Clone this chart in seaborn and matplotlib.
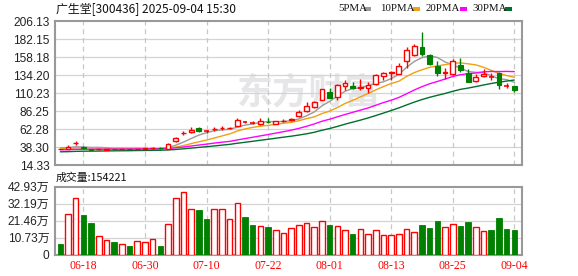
import numpy as np
import pandas as pd
import matplotlib
matplotlib.use("Agg")
import matplotlib.pyplot as plt
from matplotlib.patches import Rectangle
import seaborn as sns

# ---------------- data ----------------
title = "广生堂[300436] 2025-09-04 15:30"
dates = pd.bdate_range("2025-06-13", "2025-09-04").strftime("%m-%d").tolist()
tick_labels = ["06-18", "06-30", "07-10", "07-22", "08-01", "08-13", "08-25", "09-04"]

open_ = [35.8, 36.2, 43.2, 38.6, 36.0, 35.0, 34.3, 35.8, 35.3, 35.7,
         35.3, 35.7, 36.5, 37.5, 36.3, 46.0, 56.5, 58.3, 63.3, 59.0,
         62.0, 63.0, 63.5, 66.6, 71.9, 70.8, 68.8, 72.2, 69.2, 73.0,
         74.2, 79.0, 85.8, 91.2, 101.5, 111.0, 105.5, 120.0, 120.0, 117.0,
         117.0, 122.0, 132.5, 137.0, 136.0, 153.3, 161.0, 171.0, 161.0, 146.5,
         137.0, 136.0, 148.0, 137.5, 126.0, 133.0, 132.2, 136.5, 120.2, 119.0]
high = [36.0, 41.6, 46.6, 40.3, 36.2, 36.3, 36.2, 36.2, 36.0, 35.9,
        36.3, 36.8, 38.5, 38.0, 43.2, 51.5, 59.4, 64.5, 64.5, 61.0,
        65.6, 66.0, 65.5, 77.5, 73.0, 72.5, 76.5, 77.0, 73.5, 75.0,
        77.5, 88.0, 98.5, 100.0, 116.0, 116.5, 122.0, 127.0, 125.5, 129.0,
        125.0, 135.0, 138.5, 139.0, 150.5, 172.0, 176.0, 191.5, 162.5, 153.5,
        143.8, 156.0, 157.0, 142.5, 135.0, 142.5, 137.0, 138.5, 123.5, 119.0]
low = [35.0, 36.0, 40.5, 36.2, 34.3, 34.7, 34.0, 35.0, 35.0, 35.0,
       35.1, 35.5, 36.0, 36.2, 35.8, 45.0, 54.1, 57.5, 58.5, 57.5,
       59.5, 61.5, 62.5, 65.8, 70.5, 69.5, 67.5, 70.5, 68.5, 72.0,
       73.0, 78.0, 84.5, 90.0, 100.5, 103.0, 100.5, 114.0, 116.0, 114.0,
       110.0, 121.0, 128.0, 128.0, 135.0, 143.0, 159.0, 159.0, 148.0, 132.5,
       129.0, 134.0, 138.0, 124.5, 124.5, 131.5, 127.0, 116.0, 116.5, 111.3]
close = [35.2, 38.6, 43.6, 36.5, 34.7, 35.8, 35.8, 35.3, 35.7, 35.3,
         35.9, 36.4, 37.0, 36.6, 42.5, 50.5, 57.2, 61.0, 59.3, 59.0,
         62.8, 63.6, 64.2, 74.5, 71.9, 70.8, 73.0, 71.5, 72.8, 73.6,
         75.0, 85.5, 92.5, 97.8, 115.0, 104.0, 121.5, 124.0, 116.5, 117.8,
         121.0, 134.0, 136.5, 137.6, 146.0, 168.0, 173.0, 162.0, 148.5, 136.5,
         137.8, 153.0, 141.0, 125.5, 131.8, 135.5, 132.2, 121.0, 120.2, 113.6]
volume_wan = [6.9, 25.9, 36.0, 25.2, 19.8, 12.0, 9.5, 8.2, 7.0, 5.7,
              8.8, 8.2, 10.1, 5.7, 19.6, 36.0, 39.8, 28.6, 28.0, 22.3,
              29.0, 29.0, 22.3, 32.8, 23.6, 18.5, 18.3, 17.3, 15.8, 13.9,
              16.6, 18.5, 20.2, 17.3, 21.5, 18.9, 18.3, 15.8, 12.8, 16.4,
              13.3, 15.8, 12.6, 12.6, 13.3, 16.4, 14.5, 18.9, 16.6, 21.0,
              17.3, 19.6, 17.9, 20.4, 17.3, 15.1, 15.4, 22.9, 16.0, 15.42]
ma5 = [37.2, 37.4, 38.6, 38.3, 37.7, 37.8, 37.3, 35.6, 35.5, 35.6,
       35.6, 35.7, 36.1, 36.2, 37.7, 40.6, 44.8, 49.6, 54.1, 57.4,
       59.9, 61.1, 61.8, 64.8, 67.4, 69.0, 70.9, 72.3, 72.0, 72.3,
       73.2, 75.7, 79.9, 84.9, 93.2, 99.0, 106.2, 112.5, 116.2, 116.8,
       120.2, 122.7, 125.2, 129.4, 135.0, 144.4, 152.2, 157.3, 159.5, 157.6,
       151.6, 147.6, 143.4, 138.8, 137.8, 137.4, 133.2, 129.2, 128.1, 124.5]
ma10 = [36.3, 36.5, 37.2, 37.2, 37.1, 37.0, 36.9, 36.8, 36.8, 36.7,
        36.7, 36.5, 35.8, 35.9, 36.6, 38.1, 40.2, 42.8, 45.2, 47.5,
        50.2, 53.0, 55.7, 59.5, 62.4, 64.4, 66.0, 67.1, 68.4, 69.9,
        71.1, 73.3, 76.1, 78.4, 82.8, 86.1, 90.9, 96.2, 100.5, 105.0,
        109.6, 114.4, 118.8, 122.8, 125.9, 132.3, 137.4, 141.2, 144.4, 146.3,
        148.0, 149.9, 150.3, 149.1, 147.7, 144.5, 140.4, 136.3, 133.5, 131.2]
ma20 = [34.5, 34.7, 35.2, 35.3, 35.3, 35.4, 35.4, 35.5, 35.5, 35.6,
        35.7, 35.7, 35.9, 36.0, 36.4, 37.2, 38.3, 39.6, 40.9, 42.1,
        43.5, 44.7, 45.8, 47.7, 49.5, 51.3, 53.1, 54.9, 56.8, 58.7,
        60.7, 63.1, 65.9, 69.0, 72.6, 75.3, 78.5, 81.6, 84.5, 87.4,
        90.3, 93.9, 97.5, 100.6, 104.3, 109.2, 114.2, 118.7, 122.5, 125.6,
        128.8, 132.2, 134.6, 136.0, 136.8, 138.4, 138.9, 138.8, 139.0, 138.7]
ma30 = [31.9, 32.1, 32.5, 32.7, 32.8, 32.9, 33.1, 33.2, 33.3, 33.4,
        33.6, 33.7, 33.9, 34.0, 34.4, 35.0, 35.9, 36.8, 37.8, 38.7,
        39.7, 40.8, 41.8, 43.3, 44.6, 45.9, 47.3, 48.6, 50.0, 51.4,
        52.7, 54.2, 55.9, 57.9, 60.6, 62.9, 65.7, 68.7, 71.4, 74.1,
        77.0, 80.2, 83.5, 86.9, 90.4, 94.3, 98.1, 101.5, 104.5, 107.1,
        109.6, 112.5, 115.1, 116.8, 118.8, 120.9, 122.9, 124.6, 126.1, 127.5]
price_ticks = [14.33, 38.30, 62.28, 86.25, 110.23, 134.20, 158.18, 182.15, 206.13]
vol_ticks = [0, 10.73, 21.46, 32.19, 42.93]
last_volume = 154221
ma_names = ["5PMA", "10PMA", "20PMA", "30PMA"]
ma_colors = ["#9a9a9a", "#f0a010", "#ff00ff", "#006e2e"]

# ---------------- style ----------------
sns.set_style("white")
plt.rcParams["font.family"] = ["Liberation Sans", "Noto Sans CJK SC", "DejaVu Sans"]

RED = "#ff0000"
GREEN = "#008000"
GRID = "#d4d4d4"
SPINE = "#999999"
LABEL = "#222222"

df = pd.DataFrame({"date": dates, "open": open_, "high": high, "low": low,
                   "close": close, "vol": volume_wan,
                   "ma5": ma5, "ma10": ma10, "ma20": ma20, "ma30": ma30})
df["x"] = np.arange(len(df))
up = df["close"] > df["open"]
down = df["close"] < df["open"]
doji = ~(up | down)
prev_close = df["close"].shift(1).fillna(df["open"])
vol_up = up | (doji & (df["close"] >= prev_close))

fig = plt.figure(figsize=(5.78, 2.76), dpi=100)
W, H = 578.0, 276.0
ax_l, ax_r = 55 / W, 522.3 / W
axp = fig.add_axes([ax_l, 1 - 165 / H, ax_r - ax_l, (165 - 21) / H])
axv = fig.add_axes([ax_l, 1 - 254.7 / H, ax_r - ax_l, (254.7 - 186.7) / H])

xlim = (-0.69, len(df) - 1 + 1.04)
tick_pos = [df.index[df["date"] == t][0] for t in tick_labels]

for ax in (axp, axv):
    ax.set_xlim(*xlim)
    for s in ax.spines.values():
        s.set_color(SPINE)
        s.set_linewidth(1.5)
    ax.set_axisbelow(True)
    for xp in tick_pos:
        ax.axvline(xp, color="#c8c8c8", lw=0.9, ls=(0, (4, 3)), zorder=0.6)
    ax.tick_params(axis="y", length=2.5, width=0.8, color=SPINE, pad=1.5,
                   labelsize=8.6, labelcolor=LABEL)
    ax.tick_params(axis="x", length=0)

# ---- price panel ----
axp.set_ylim(price_ticks[0], price_ticks[-1])
axp.set_yticks(price_ticks)
axp.set_yticklabels([f"{v:.2f}" for v in price_ticks])
for v in price_ticks[1:-1]:
    axp.axhline(v, color=GRID, lw=0.9, zorder=0.5)
axp.set_xticks([])
axp.text(0.543, 0.5, "东方财富", transform=axp.transAxes, ha="center", va="center",
         fontsize=26, fontweight="bold", color="#e6e6e8", family=["Noto Sans CJK SC"],
         zorder=0.1)

for col, c in zip(["ma5", "ma10", "ma20", "ma30"], ma_colors):
    sns.lineplot(data=df, x="x", y=col, ax=axp, color=c, lw=1.0, legend=False, zorder=2)

cw = 0.62
body_lo = np.minimum(df["open"], df["close"])
body_h = (df["open"] - df["close"]).abs()
colors = np.where(down, GREEN, RED)
axp.vlines(df["x"], df["low"], df["high"], colors=colors, lw=1.0, zorder=3)
axp.bar(df["x"][up], body_h[up], bottom=body_lo[up], width=cw,
        facecolor="white", edgecolor=RED, lw=1.0, zorder=4)
axp.bar(df["x"][down], body_h[down], bottom=body_lo[down], width=cw,
        facecolor=GREEN, edgecolor=GREEN, lw=0.8, zorder=4)
axp.hlines(df["close"][doji], df["x"][doji] - cw / 2, df["x"][doji] + cw / 2,
           colors=RED, lw=1.2, zorder=4)
axp.set_xlabel("")
axp.set_ylabel("")

# ---- volume panel ----
vw = 0.72
axv.set_ylim(0, vol_ticks[-1])
axv.set_yticks(vol_ticks)
axv.set_yticklabels(["0"] + [f"{v:.2f}万" for v in vol_ticks[1:]],
                    family=["Liberation Sans", "Noto Sans CJK SC"])
for v in vol_ticks[1:-1]:
    axv.axhline(v, color=GRID, lw=0.9, zorder=0.5)
axv.bar(df["x"][vol_up], df["vol"][vol_up], width=vw, facecolor="white",
        edgecolor=RED, lw=1.0, zorder=3)
axv.bar(df["x"][~vol_up], df["vol"][~vol_up], width=vw, facecolor=GREEN,
        edgecolor=GREEN, lw=0.6, zorder=3)
axv.set_xticks(tick_pos)
axv.set_xticklabels(tick_labels, color=RED, fontsize=8.5, family=["Liberation Serif"])
axv.tick_params(axis="x", pad=4)

# ---- header texts ----
fig.text(56 / W, 1 - 8.5 / H, title, ha="left", va="center", fontsize=8.6,
         color="#111111", family=["Noto Sans CJK SC", "DejaVu Sans"])
fig.text(56 / W, 1 - 178 / H, f"成交量:{last_volume}", ha="left", va="center",
         fontsize=7.8, color="#111111", family=["Noto Sans CJK SC", "DejaVu Sans"])

leg_text_x = [338, 380, 426, 472]
leg_sq_x = [364, 413, 460, 505]
for name, c, tx, sx in zip(ma_names, ma_colors, leg_text_x, leg_sq_x):
    fig.text(tx / W, 1 - 8.5 / H, name, ha="left", va="center", fontsize=7.8,
             color="#111111", family=["Liberation Serif"])
    fig.patches.append(Rectangle((sx / W, 1 - 10.5 / H), 7 / W, 4 / H,
                                 transform=fig.transFigure, facecolor=c,
                                 edgecolor="none"))

fig.savefig("out.png", dpi=100)
